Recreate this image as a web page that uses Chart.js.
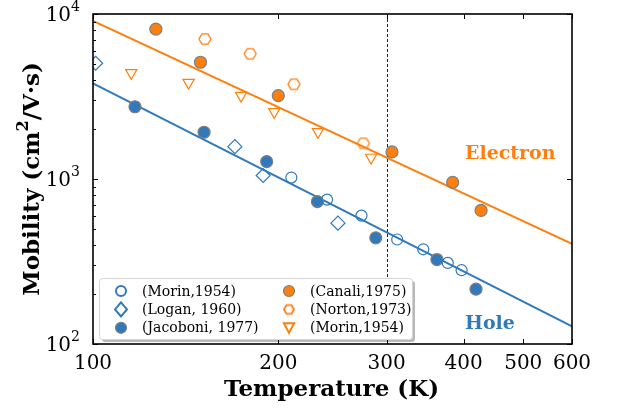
<!DOCTYPE html>
<html>
<head>
    <title>Si mobility vs temperature</title>
    <script src="https://cdn.jsdelivr.net/npm/chart.js"></script>
    <style>
        body {
            margin: 0;
            background: white;
        }
        .wrap {
            position: relative;
            width: 617px;
            height: 410px;
        }
    </style>
</head>
<body>
    <div class="wrap">
        <canvas id="mobilityChart" width="617" height="410"></canvas>
    </div>

    <script>
        // Fitted lines (power law, drawn as straight segments on log-log)
        const lineT = [100, 600];
        const electronFit = [9070, 404];
        const holeFit = [3800, 128];

        // Hole data
        const morinHoleT = [210, 240, 273, 312, 344, 377, 397];
        const morinHoleMu = [1020, 750, 600, 430, 375, 310, 280];
        const loganT = [101, 170, 189, 250];
        const loganMu = [5030, 1570, 1050, 540];
        const jacoboniT = [117, 151.5, 191.5, 231.5, 288, 362, 419];
        const jacoboniMu = [2740, 1920, 1275, 730, 440, 325, 215];

        // Electron data
        const canaliT = [126.5, 149.5, 200, 306, 384, 427];
        const canaliMu = [8100, 5100, 3200, 1460, 955, 645];
        const nortonT = [152, 180, 212, 275];
        const nortonMu = [7050, 5740, 3750, 1645];
        const morinElecT = [115.4, 143, 174, 197, 232, 283];
        const morinElecMu = [4400, 3840, 3200, 2550, 1930, 1350];

        // Axis ticks
        const xTicks = [100, 200, 300, 400, 500, 600];
        const yMajor = [100, 1000, 10000];
        const yMinor = [200, 300, 400, 500, 600, 700, 800, 900, 2000, 3000, 4000, 5000, 6000, 7000, 8000, 9000];
        const roomTemp = 300;

        const BLUE = '#3079bc';
        const ORANGE = '#ff7f0e';
        const EDGE = '#7f7f7f';
        const SERIF = "'DejaVu Serif', serif";

        function pts(xs, ys) {
            return xs.map((x, i) => ({ x: x, y: ys[i] }));
        }

        // hexagon marker (flat top) as a small canvas
        function hexagon(r, color, lw) {
            const size = Math.ceil(2 * r + 4);
            const c = document.createElement('canvas');
            c.width = size;
            c.height = size;
            const g = c.getContext('2d');
            g.strokeStyle = color;
            g.lineWidth = lw;
            g.beginPath();
            for (let k = 0; k < 6; k++) {
                const a = k * Math.PI / 3;
                const px = size / 2 + r * Math.cos(a);
                const py = size / 2 + r * Math.sin(a);
                if (k === 0) g.moveTo(px, py); else g.lineTo(px, py);
            }
            g.closePath();
            g.stroke();
            return c;
        }

        const hexMarker = hexagon(6, ORANGE, 1.3);
        const hexLegend = hexagon(5, ORANGE, 1.8);

        const legendItems = [
            { label: '(Morin,1954)', style: 'circle', r: 5, fill: null, stroke: BLUE, lw: 2 },
            { label: '(Logan, 1960)', style: 'diamond', r: 7, fill: null, stroke: BLUE, lw: 2 },
            { label: '(Jacoboni, 1977)', style: 'circle', r: 5.5, fill: BLUE, stroke: EDGE, lw: 1.2 },
            { label: '(Canali,1975)', style: 'circle', r: 5.5, fill: ORANGE, stroke: EDGE, lw: 1.2 },
            { label: '(Norton,1973)', style: 'hex', r: 5, fill: null, stroke: ORANGE, lw: 2 },
            { label: '(Morin,1954)', style: 'tri', r: 6, fill: null, stroke: ORANGE, lw: 2 }
        ];

        function drawMarker(ctx, m, x, y) {
            ctx.save();
            ctx.lineWidth = m.lw;
            ctx.strokeStyle = m.stroke;
            if (m.style === 'hex') {
                ctx.drawImage(hexLegend, x - hexLegend.width / 2, y - hexLegend.height / 2);
                ctx.restore();
                return;
            }
            ctx.beginPath();
            if (m.style === 'circle') {
                ctx.arc(x, y, m.r, 0, Math.PI * 2);
            } else if (m.style === 'diamond') {
                ctx.moveTo(x, y - m.r);
                ctx.lineTo(x + m.r * 0.85, y);
                ctx.lineTo(x, y + m.r);
                ctx.lineTo(x - m.r * 0.85, y);
                ctx.closePath();
            } else if (m.style === 'tri') {
                ctx.moveTo(x - m.r * 0.85, y - m.r * 0.75);
                ctx.lineTo(x + m.r * 0.85, y - m.r * 0.75);
                ctx.lineTo(x, y + m.r * 0.85);
                ctx.closePath();
            }
            if (m.fill) {
                ctx.fillStyle = m.fill;
                ctx.fill();
            }
            ctx.stroke();
            ctx.restore();
        }

        const decorations = {
            id: 'decorations',
            beforeDatasetsDraw(chart) {
                const ctx = chart.ctx;
                const area = chart.chartArea;
                const x = chart.scales.x.getPixelForValue(roomTemp);
                ctx.save();
                ctx.strokeStyle = '#222';
                ctx.lineWidth = 1;
                ctx.setLineDash([3, 2]);
                ctx.beginPath();
                ctx.moveTo(Math.round(x) + 0.5, area.top);
                ctx.lineTo(Math.round(x) + 0.5, area.bottom);
                ctx.stroke();
                ctx.restore();
            },
            afterDraw(chart) {
                const ctx = chart.ctx;
                const area = chart.chartArea;
                const sx = chart.scales.x;
                const sy = chart.scales.y;
                ctx.save();

                // ticks (inward)
                ctx.strokeStyle = '#000';
                ctx.lineWidth = 1;
                ctx.beginPath();
                xTicks.forEach(v => {
                    const x = Math.round(sx.getPixelForValue(v)) + 0.5;
                    ctx.moveTo(x, area.bottom); ctx.lineTo(x, area.bottom - 5);
                    ctx.moveTo(x, area.top); ctx.lineTo(x, area.top + 5);
                });
                yMajor.forEach(v => {
                    const y = Math.round(sy.getPixelForValue(v)) + 0.5;
                    ctx.moveTo(area.left, y); ctx.lineTo(area.left + 5, y);
                    ctx.moveTo(area.right, y); ctx.lineTo(area.right - 5, y);
                });
                yMinor.forEach(v => {
                    const y = Math.round(sy.getPixelForValue(v)) + 0.5;
                    ctx.moveTo(area.left, y); ctx.lineTo(area.left + 3, y);
                });
                ctx.stroke();

                // frame
                ctx.lineWidth = 1.6;
                ctx.strokeRect(area.left, area.top, area.right - area.left, area.bottom - area.top);

                // x tick labels
                ctx.fillStyle = '#000';
                ctx.font = '20px ' + SERIF;
                ctx.textAlign = 'center';
                ctx.textBaseline = 'middle';
                xTicks.forEach(v => {
                    ctx.fillText(String(v), sx.getPixelForValue(v), area.bottom + 20);
                });

                // y tick labels 10^n
                yMajor.forEach(v => {
                    const y = sy.getPixelForValue(v);
                    const exp = String(Math.round(Math.log10(v)));
                    ctx.font = '14px ' + SERIF;
                    const we = ctx.measureText(exp).width;
                    ctx.textAlign = 'right';
                    ctx.fillText(exp, area.left - 13, y - 7);
                    ctx.font = '20px ' + SERIF;
                    ctx.fillText('10', area.left - 13 - we, y + 1.5);
                });

                // axis titles
                ctx.font = 'bold 23px ' + SERIF;
                ctx.textAlign = 'center';
                ctx.fillText('Temperature (K)', (area.left + area.right) / 2 - 1, area.bottom + 46);

                ctx.save();
                ctx.translate(33, (area.top + area.bottom) / 2);
                ctx.rotate(-Math.PI / 2);
                const partA = 'Mobility (cm';
                const partB = '2';
                const partC = '/V\u00b7s)';
                ctx.font = 'bold 23px ' + SERIF;
                const wa = ctx.measureText(partA).width;
                const wc = ctx.measureText(partC).width;
                ctx.font = 'bold 16px ' + SERIF;
                const wb = ctx.measureText(partB).width;
                let cx = -(wa + wb + wc) / 2;
                ctx.textAlign = 'left';
                ctx.font = 'bold 23px ' + SERIF;
                ctx.fillText(partA, cx, 0);
                cx += wa;
                ctx.font = 'bold 16px ' + SERIF;
                ctx.fillText(partB, cx, -9);
                cx += wb;
                ctx.font = 'bold 23px ' + SERIF;
                ctx.fillText(partC, cx, 0);
                ctx.restore();

                // curve labels
                ctx.font = 'bold 19px ' + SERIF;
                ctx.textAlign = 'left';
                ctx.fillStyle = ORANGE;
                ctx.fillText('Electron', sx.getPixelForValue(402), sy.getPixelForValue(1418));
                ctx.fillStyle = BLUE;
                ctx.fillText('Hole', sx.getPixelForValue(402), sy.getPixelForValue(132));

                // legend box
                const lx = area.left + 6, ly = area.bottom - 66, lw = 313, lh = 61;
                ctx.fillStyle = 'rgba(0,0,0,0.28)';
                ctx.beginPath();
                ctx.roundRect(lx + 3, ly + 3, lw, lh, 3);
                ctx.fill();
                ctx.fillStyle = '#fff';
                ctx.strokeStyle = '#d5d5d5';
                ctx.lineWidth = 1;
                ctx.beginPath();
                ctx.roundRect(lx + 0.5, ly + 0.5, lw, lh, 3);
                ctx.fill();
                ctx.stroke();

                ctx.font = '14px ' + SERIF;
                ctx.textBaseline = 'middle';
                ctx.fillStyle = '#000';
                legendItems.forEach((m, i) => {
                    const col = Math.floor(i / 3);
                    const row = i % 3;
                    const mx = lx + 22 + col * 168;
                    const my = ly + 13 + row * 18.4;
                    drawMarker(ctx, m, mx, my);
                    ctx.fillStyle = '#000';
                    ctx.fillText(m.label, mx + 21, my + 1);
                });

                ctx.restore();
            }
        };

        const ctx = document.getElementById('mobilityChart').getContext('2d');
        new Chart(ctx, {
            type: 'scatter',
            data: {
                datasets: [
                    {
                        label: 'Electron fit',
                        data: pts(lineT, electronFit),
                        showLine: true,
                        borderColor: ORANGE,
                        borderWidth: 2,
                        pointRadius: 0,
                        order: 10
                    },
                    {
                        label: 'Hole fit',
                        data: pts(lineT, holeFit),
                        showLine: true,
                        borderColor: BLUE,
                        borderWidth: 2,
                        pointRadius: 0,
                        order: 10
                    },
                    {
                        label: '(Morin,1954)',
                        data: pts(morinHoleT, morinHoleMu),
                        pointStyle: 'circle',
                        pointRadius: 5.5,
                        backgroundColor: 'rgba(0,0,0,0)',
                        borderColor: BLUE,
                        borderWidth: 1.2
                    },
                    {
                        label: '(Logan, 1960)',
                        data: pts(loganT, loganMu),
                        pointStyle: 'rectRot',
                        pointRadius: 7,
                        backgroundColor: 'rgba(0,0,0,0)',
                        borderColor: BLUE,
                        borderWidth: 1.2
                    },
                    {
                        label: '(Jacoboni, 1977)',
                        data: pts(jacoboniT, jacoboniMu),
                        pointStyle: 'circle',
                        pointRadius: 6,
                        backgroundColor: BLUE,
                        borderColor: EDGE,
                        borderWidth: 1.2
                    },
                    {
                        label: '(Canali,1975)',
                        data: pts(canaliT, canaliMu),
                        pointStyle: 'circle',
                        pointRadius: 6,
                        backgroundColor: ORANGE,
                        borderColor: EDGE,
                        borderWidth: 1.2
                    },
                    {
                        label: '(Norton,1973)',
                        data: pts(nortonT, nortonMu),
                        pointStyle: hexMarker,
                        pointRadius: 6
                    },
                    {
                        label: '(Morin,1954) e',
                        data: pts(morinElecT, morinElecMu),
                        pointStyle: 'triangle',
                        rotation: 180,
                        pointRadius: 6.5,
                        backgroundColor: 'rgba(0,0,0,0)',
                        borderColor: ORANGE,
                        borderWidth: 1.2
                    }
                ]
            },
            options: {
                responsive: false,
                animation: false,
                layout: {
                    padding: { left: 93, right: 45, top: 14, bottom: 66 }
                },
                scales: {
                    x: {
                        type: 'logarithmic',
                        min: 100,
                        max: 600,
                        display: false
                    },
                    y: {
                        type: 'logarithmic',
                        min: 100,
                        max: 10000,
                        display: false
                    }
                },
                plugins: {
                    legend: { display: false },
                    tooltip: { enabled: false }
                }
            },
            plugins: [decorations]
        });
    </script>
</body>
</html>
